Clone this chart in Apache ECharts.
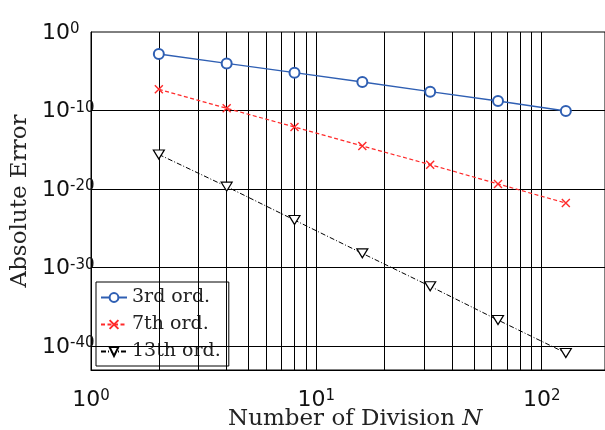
<!DOCTYPE html>
<html><head><meta charset="utf-8">
<script src="https://cdn.jsdelivr.net/npm/echarts@6/dist/echarts.min.js"></script>
<style>html,body{margin:0;padding:0;background:#fff}#c{width:605px;height:430px}</style>
</head><body><div id="c"></div>
<script>
const divisions = [2, 4, 8, 16, 32, 64, 128];
const err3rd  = [1.6e-3, 1.0e-4, 6.6e-6, 4.3e-7, 2.5e-8, 1.6e-9, 8.7e-11];
const err7th  = [5.0e-8, 1.9e-10, 7.9e-13, 3.0e-15, 1.26e-17, 4.4e-20, 1.6e-22];
const err13th = [2.5e-16, 2.0e-20, 1.1e-24, 6.3e-29, 4.0e-33, 2.0e-37, 1.26e-41];
const seriesNames = ['3rd ord.', '7th ord.', '13th ord.'];
const xTickLabels = [1, 10, 100];
const yTickLabels = [1, 1e-10, 1e-20, 1e-30, 1e-40];
const xGridValues = [2,3,4,5,6,7,8,9,10,20,30,40,50,60,70,80,90,100];
const yGridValues = [1e-10, 1e-20, 1e-30, 1e-40];

const X_MIN = 1, X_MAX = Math.pow(10, 2.281);
const Y_MIN = Math.pow(10, -43.06), Y_MAX = 1;

const SERIF = 'DejaVu Serif';
const SANS = 'DejaVu Sans';
function powLabel(v) {
  const e = Math.round(Math.log10(v));
  return '{b|10}{s|' + e + '}';
}
const rich = {
  b: {fontFamily: SANS, fontSize: 22, color: '#111', lineHeight: 22, verticalAlign: 'bottom'},
  s: {fontFamily: SANS, fontSize: 15, color: '#111', lineHeight: 15, verticalAlign: 'top'}
};
function pairs(ys) { return divisions.map((x, i) => [x, ys[i]]); }

const gridLines = xGridValues.map(v => [{coord: [v, Y_MIN]}, {coord: [v, Y_MAX]}])
  .concat(yGridValues.map(v => [{coord: [X_MIN, v]}, {coord: [X_MAX, v]}]));

const chart = echarts.init(document.getElementById('c'), null, {renderer: 'canvas'});
chart.setOption({
  animation: false,
  backgroundColor: '#fff',
  title: {
    text: 'Number of Division {i|N}', left: 228, top: 408, padding: 0,
    textStyle: {fontFamily: SERIF, fontSize: 23, fontWeight: 'normal', color: '#222',
      rich: {i: {fontFamily: SERIF, fontStyle: 'italic', fontSize: 23, color: '#222'}}}
  },
  grid: {left: 91, right: 0, top: 32, bottom: 60, outerBoundsMode: 'none', containLabel: false,
    show: true, borderColor: '#000', borderWidth: 1, backgroundColor: 'transparent'},
  xAxis: {
    type: 'log', logBase: 10, min: X_MIN, max: X_MAX,
    axisLine: {show: true, lineStyle: {color: '#000', width: 1}},
    axisTick: {show: false},
    splitLine: {show: false},
    axisLabel: {customValues: xTickLabels, formatter: powLabel, rich: rich, margin: 19}
  },
  yAxis: {
    type: 'log', logBase: 10, min: Y_MIN, max: Y_MAX,
    name: 'Absolute Error', nameLocation: 'middle', nameGap: 58, nameRotate: 90,
    nameTextStyle: {fontFamily: SERIF, fontSize: 23, color: '#222'},
    axisLine: {show: true, lineStyle: {color: '#000', width: 1}},
    axisTick: {show: false},
    splitLine: {show: false},
    axisLabel: {customValues: yTickLabels, formatter: powLabel, rich: rich, margin: 49, align: 'left',
      padding: [2, 0, 0, 0]}
  },
  legend: {
    orient: 'vertical', left: 96, top: 282,
    data: seriesNames,
    backgroundColor: '#fff', borderColor: '#000', borderWidth: 1,
    padding: [6, 8, 5, 4], itemWidth: 26, itemHeight: 11, itemGap: 8,
    textStyle: {fontFamily: SERIF, fontSize: 19, color: '#222'}
  },
  series: [
    {
      type: 'line', data: [], z: 1, silent: true,
      markLine: {
        silent: true, symbol: 'none', label: {show: false}, animation: false,
        lineStyle: {color: '#000', width: 1, type: 'solid'},
        data: gridLines
      }
    },
    {
      name: seriesNames[0], type: 'line', data: pairs(err3rd), z: 5,
      symbol: 'emptyCircle', symbolSize: 10,
      lineStyle: {color: '#2f5fb3', width: 1.4, type: 'solid'},
      itemStyle: {color: '#2f5fb3', borderColor: '#2f5fb3', borderWidth: 1.3}
    },
    {
      name: seriesNames[1], type: 'line', data: pairs(err7th), z: 5,
      symbol: 'path://M0,0L10,10M10,0L0,10', symbolSize: 8,
      lineStyle: {color: '#ff2a2a', width: 1.2, type: [4, 2.5]},
      itemStyle: {color: 'none', borderColor: '#ff2a2a', borderWidth: 1.4}
    },
    {
      name: seriesNames[2], type: 'line', data: pairs(err13th), z: 5,
      symbol: 'path://M0,0L12,0L6,10Z', symbolSize: [11, 9],
      lineStyle: {color: '#000', width: 1, type: [5, 2, 1, 2]},
      itemStyle: {color: '#fff', borderColor: '#000', borderWidth: 1.2}
    }
  ]
});
</script></body></html>
